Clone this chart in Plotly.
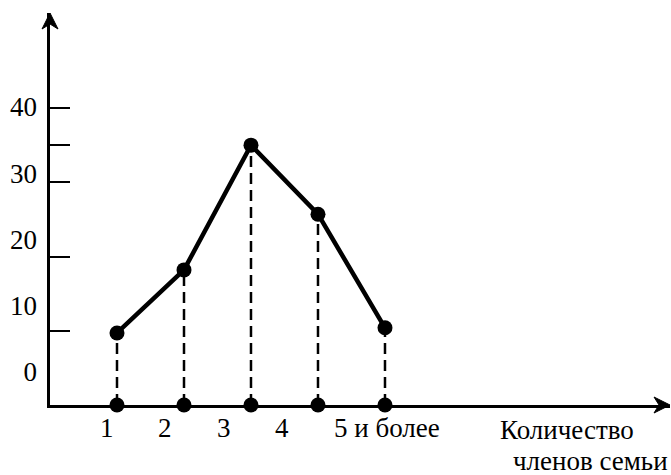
import plotly.graph_objects as go

# Family size distribution: number of family members vs. frequency
categories = ["1", "2", "3", "4", "5 и более"]
values = [9.7, 18.2, 35.0, 25.7, 10.4]

y_tick_marks = [10, 20, 30, 35, 40]
y_tick_labels = [0, 10, 20, 30, 40]
x_title_lines = ["Количество", "членов семьи"]

FONT = "Liberation Serif"
FS = 27
BLACK = "#000000"

fig = go.Figure()

# dashed drop lines from each point to the horizontal axis
drop_x, drop_y = [], []
for c, v in zip(categories, values):
    drop_x += [c, c, None]
    drop_y += [0, v, None]
fig.add_trace(go.Scatter(
    x=drop_x, y=drop_y, mode="lines",
    line=dict(color=BLACK, width=2.5, dash="11px,6px"),
    hoverinfo="skip", cliponaxis=False,
))

# dots on the horizontal axis
fig.add_trace(go.Scatter(
    x=categories, y=[0] * len(categories), mode="markers",
    marker=dict(color=BLACK, size=15),
    hoverinfo="skip", cliponaxis=False,
))

# the polygon
fig.add_trace(go.Scatter(
    x=categories, y=values, mode="lines+markers",
    line=dict(color=BLACK, width=4.5),
    marker=dict(color=BLACK, size=15),
    cliponaxis=False,
))

# helper trace that carries the label scale (x2 / y2)
fig.add_trace(go.Scatter(
    x=categories, y=[None] * len(categories), xaxis="x2", yaxis="y2",
    mode="markers", showlegend=False, hoverinfo="skip",
))

annotations = []
for i, lab in enumerate(categories):
    last = i == len(categories) - 1
    annotations.append(dict(
        x=i, y=0, xref="x2", yref="paper",
        text=lab, showarrow=False,
        xanchor="left" if last else "center", yanchor="top",
        xshift=-8 if last else 0, yshift=-6,
        font=dict(family=FONT, size=FS, color=BLACK),
    ))

annotations.append(dict(
    x=0.722, y=-0.064, xref="paper", yref="paper",
    text=x_title_lines[0], showarrow=False, xanchor="left", yanchor="middle",
    font=dict(family=FONT, size=FS, color=BLACK),
))
annotations.append(dict(
    x=1.0, y=-0.143, xref="paper", yref="paper",
    text=x_title_lines[1], showarrow=False, xanchor="right", yanchor="middle",
    font=dict(family=FONT, size=FS, color=BLACK),
))

# arrowheads on the ends of both axes
shapes = [
    dict(type="path", xref="paper", yref="paper",
         xsizemode="pixel", ysizemode="pixel", xanchor=0, yanchor=1,
         path="M 0 0 L -8 -16 L 0 -11 L 8 -16 Z",
         fillcolor=BLACK, line=dict(color=BLACK, width=1)),
    dict(type="path", xref="paper", yref="paper",
         xsizemode="pixel", ysizemode="pixel", xanchor=1, yanchor=0,
         path="M 0 0 L -16 8 L -11 0 L -16 -8 Z",
         fillcolor=BLACK, line=dict(color=BLACK, width=1)),
]

fig.update_layout(
    width=671, height=475,
    margin=dict(l=50, r=1, t=13, b=70),
    paper_bgcolor="white", plot_bgcolor="white",
    showlegend=False,
    font=dict(family=FONT, size=FS, color=BLACK),
    xaxis=dict(
        type="category", categoryorder="array", categoryarray=categories,
        range=[-1.0, 8.254],
        showline=True, linecolor=BLACK, linewidth=2.5,
        showgrid=False, zeroline=False, ticks="", showticklabels=False,
    ),
    yaxis=dict(
        range=[0, 52.8],
        showline=True, linecolor=BLACK, linewidth=2.5,
        showgrid=False, zeroline=False,
        tickvals=y_tick_marks, ticks="inside", ticklen=20, tickwidth=2,
        tickcolor=BLACK, showticklabels=False,
    ),
    xaxis2=dict(
        type="category", categoryorder="array", categoryarray=categories,
        overlaying="x", anchor="y", side="bottom",
        range=[-0.978, 9.657],
        showline=False, showgrid=False, zeroline=False,
        ticks="", showticklabels=False,
    ),
    yaxis2=dict(
        overlaying="y", anchor="x", side="left",
        range=[-4.98, 54.19],
        showline=False, showgrid=False, zeroline=False,
        tickvals=y_tick_labels, ticktext=[str(v) for v in y_tick_labels],
        ticks="", ticklabelstandoff=12,
        tickfont=dict(family=FONT, size=FS, color=BLACK),
    ),
    annotations=annotations,
    shapes=shapes,
)

fig.write_html("out.html")
